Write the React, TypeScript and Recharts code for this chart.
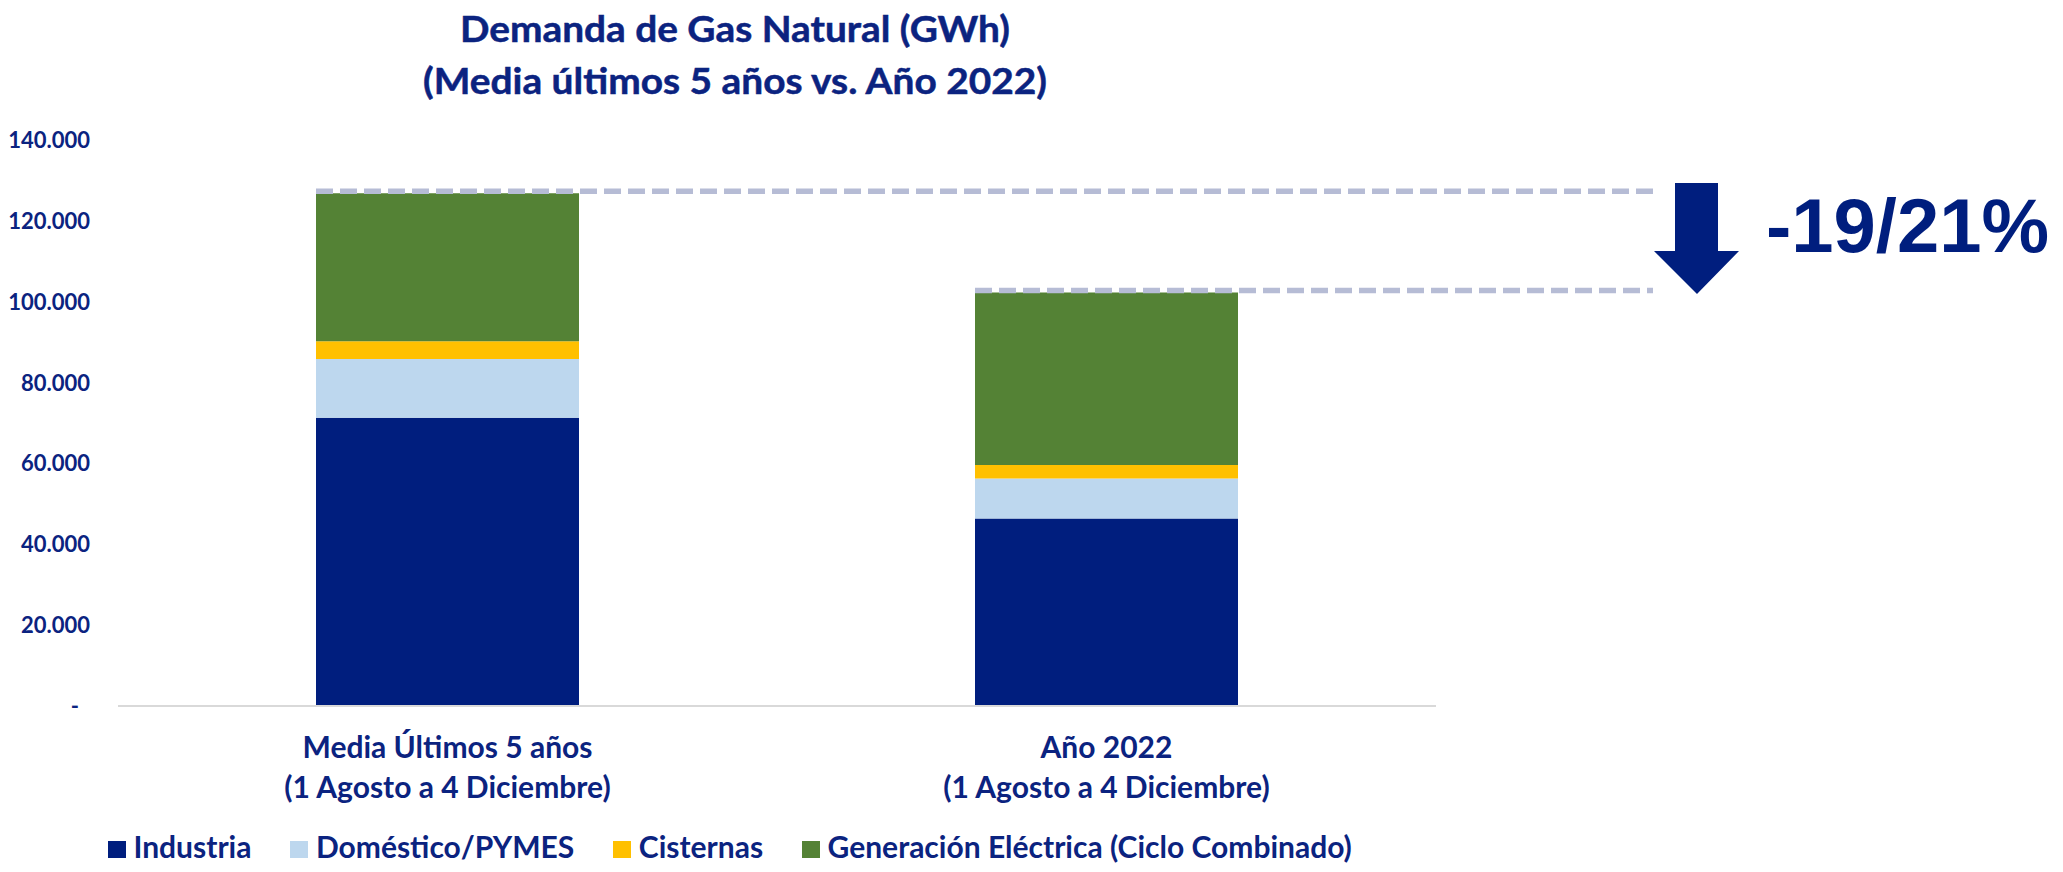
import { BarChart, Bar, XAxis, YAxis, ReferenceLine, Legend } from "recharts";

// Demanda de gas natural (GWh), 1 agosto a 4 diciembre
const CATEGORIES = [
  "Media Últimos 5 años\n(1 Agosto a 4 Diciembre)",
  "Año 2022\n(1 Agosto a 4 Diciembre)",
];
const INDUSTRIA = [71300, 46400];
const DOMESTICO = [14500, 9900];
const CISTERNAS = [4400, 3300];
const GENERACION = [36600, 42700];

const SERIES_KEYS = ["industria", "domestico", "cisternas", "generacion"];
const SERIES_NAMES = [
  "Industria",
  "Doméstico/PYMES",
  "Cisternas",
  "Generación Eléctrica (Ciclo Combinado)",
];
const Y_TICKS = [0, 20000, 40000, 60000, 80000, 100000, 120000, 140000];

const TITLE = ["Demanda de Gas Natural (GWh)", "(Media últimos 5 años vs. Año 2022)"];
const CHANGE_LABEL = "-19/21%";

const data = CATEGORIES.map((category, i) => ({
  category,
  industria: INDUSTRIA[i],
  domestico: DOMESTICO[i],
  cisternas: CISTERNAS[i],
  generacion: GENERACION[i],
}));
const totals = data.map(
  (d) => d.industria + d.domestico + d.cisternas + d.generacion
);

const COLORS = ["#001E7E", "#BDD7EE", "#FFC000", "#548235"];
const TEXT = "#0b2380";
const FONT = "Lato, 'Open Sans', sans-serif";
const BAR_SIZE = 263;

const fmt = (v: number) => String(v).replace(/\B(?=(\d{3})+(?!\d))/g, ".");

function YTick({ x, y, payload }: any) {
  const v = payload.value;
  return (
    <text
      x={v === 0 ? x - 11 : x}
      y={y + 8}
      textAnchor="end"
      fill={TEXT}
      fontFamily={FONT}
      fontWeight={700}
      fontSize={22}
    >
      {v === 0 ? "-" : fmt(v)}
    </text>
  );
}

function XTick({ x, y, payload }: any) {
  const [l1, l2] = String(payload.value).split("\n");
  const common = {
    x,
    textAnchor: "middle" as const,
    fill: TEXT,
    fontFamily: FONT,
    fontWeight: 700,
    fontSize: 30,
  };
  return (
    <g>
      <text {...common} y={y + 52}>
        {l1}
      </text>
      <text {...common} y={y + 92}>
        {l2}
      </text>
    </g>
  );
}

// dashed line from the bar's left edge out to the arrow
function dashShape(i: number) {
  return (p: any) => {
    const w = p.x2 - p.x1;
    const start = p.x1 + (w / CATEGORIES.length) * (i + 0.5) - BAR_SIZE / 2;
    return (
      <line
        x1={start}
        x2={p.x2 + 217}
        y1={p.y1 - 2}
        y2={p.y1 - 2}
        stroke="#b6bcd5"
        strokeWidth={5.5}
        strokeDasharray="17 7"
      />
    );
  };
}

function LegendContent() {
  return (
    <div
      style={{
        display: "flex",
        alignItems: "flex-start",
        fontFamily: FONT,
        fontWeight: 700,
        fontSize: 30,
        lineHeight: "30px",
        color: TEXT,
        whiteSpace: "nowrap",
      }}
    >
      {SERIES_NAMES.map((name, i) => (
        <div key={name} style={{ display: "flex", alignItems: "flex-start", marginRight: 39 }}>
          <span
            style={{
              display: "inline-block",
              width: 17.5,
              height: 17,
              marginTop: 10,
              marginRight: 8,
              background: COLORS[i],
            }}
          />
          <span>{name}</span>
        </div>
      ))}
    </div>
  );
}

export default function App() {
  return (
    <div
      style={{
        position: "absolute",
        left: 0,
        top: 0,
        width: 2063,
        height: 872,
        background: "#fff",
      }}
    >
      <BarChart
        width={2063}
        height={872}
        data={data}
        margin={{ top: 140, right: 627, bottom: 0, left: 0 }}
      >
        <XAxis
          dataKey="category"
          height={166}
          tick={<XTick />}
          tickLine={false}
          tickSize={0}
          tickMargin={0}
          axisLine={{ stroke: "#d9d9d9", strokeWidth: 2 }}
          interval={0}
        />
        <YAxis
          width={118}
          domain={[0, 140000]}
          ticks={Y_TICKS}
          tick={<YTick />}
          tickLine={false}
          axisLine={false}
          tickSize={0}
          tickMargin={28}
        />
        {SERIES_KEYS.map((k, i) => (
          <Bar
            key={k}
            dataKey={k}
            name={SERIES_NAMES[i]}
            stackId="a"
            fill={COLORS[i]}
            barSize={BAR_SIZE}
            isAnimationActive={false}
          />
        ))}
        {totals.map((t, i) => (
          <ReferenceLine key={i} y={t} shape={dashShape(i)} />
        ))}
        <Legend
          layout="horizontal"
          verticalAlign="middle"
          align="center"
          content={<LegendContent />}
          wrapperStyle={{ left: 108, top: 831, width: 1500 }}
        />
      </BarChart>

      <svg
        width={2063}
        height={872}
        style={{ position: "absolute", left: 0, top: 0, pointerEvents: "none" }}
      >
        <text
          x={735}
          y={42}
          textAnchor="middle"
          fill={TEXT}
          stroke={TEXT}
          strokeWidth={0.5}
          fontFamily={FONT}
          fontWeight={700}
          fontSize={37}
          textLength={550}
          lengthAdjust="spacingAndGlyphs"
        >
          {TITLE[0]}
        </text>
        <text
          x={735}
          y={94}
          textAnchor="middle"
          fill={TEXT}
          stroke={TEXT}
          strokeWidth={0.5}
          fontFamily={FONT}
          fontWeight={700}
          fontSize={37}
          textLength={624}
          lengthAdjust="spacingAndGlyphs"
        >
          {TITLE[1]}
        </text>
        <polygon
          points="1675,183 1718,183 1718,251 1739,251 1697,294 1654,251 1675,251"
          fill="#001E7E"
        />
        <text
          x={1766}
          y={252}
          fill="#001E7E"
          fontFamily="'Liberation Sans', Arial, sans-serif"
          fontWeight={700}
          fontSize={76}
        >
          {CHANGE_LABEL}
        </text>
      </svg>
    </div>
  );
}
